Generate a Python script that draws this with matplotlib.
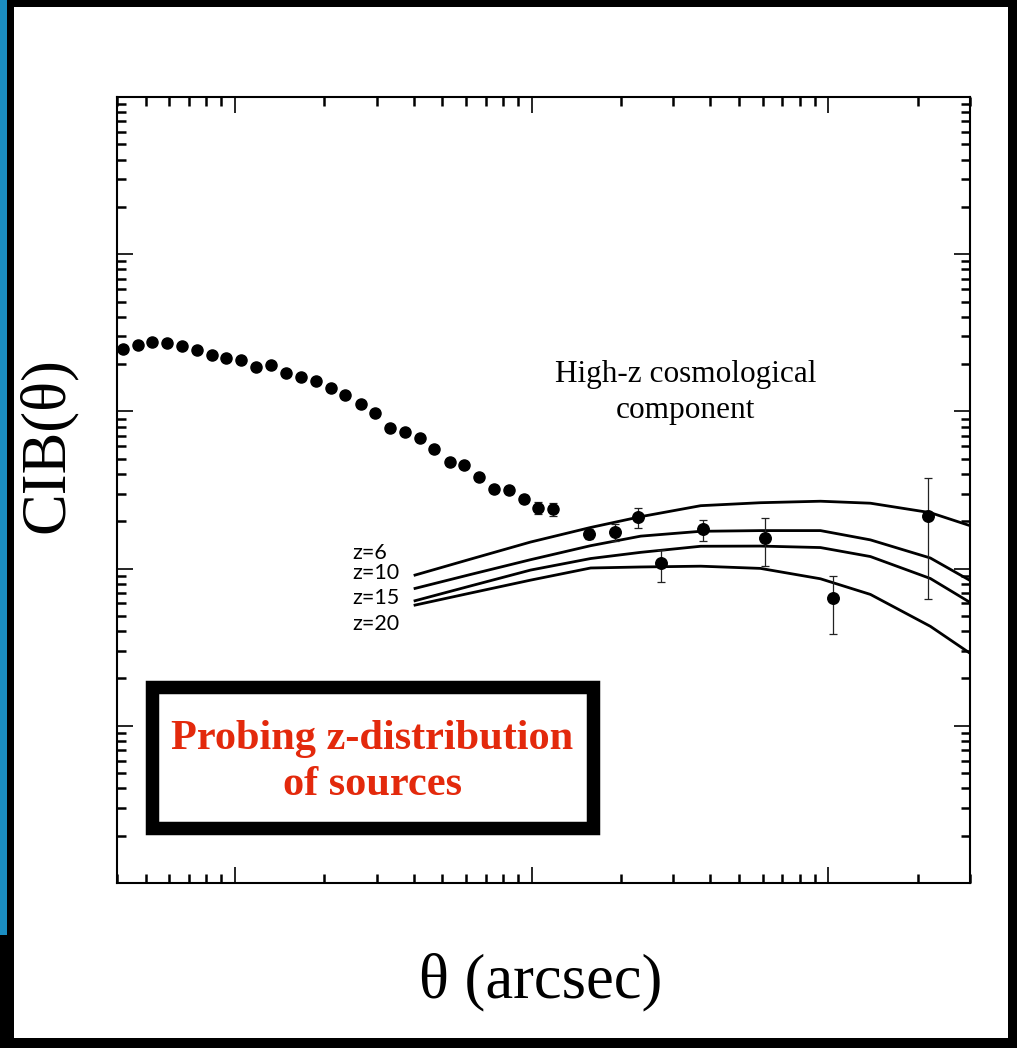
import matplotlib
matplotlib.use("Agg")
import matplotlib.pyplot as plt
from matplotlib.patches import Rectangle
from matplotlib.ticker import LogLocator, NullFormatter

# measured CIB(theta), dense small-scale set
theta_dense = [4.19, 4.70, 5.25, 5.90, 6.63, 7.45, 8.35, 9.35, 10.5, 11.77,
               13.25, 14.85, 16.64, 18.69, 21.05, 23.55, 26.5, 29.67, 33.25, 37.35,
               41.87, 47.0, 52.84, 59.2, 66.45, 74.5, 83.7, 93.8, 105.3, 117.7]
cib_dense = [0.251, 0.2637, 0.2767, 0.2715, 0.260, 0.2475, 0.2278, 0.219, 0.2109, 0.193,
             0.197, 0.176, 0.166, 0.155, 0.1403, 0.1265, 0.1119, 0.0972, 0.0788, 0.0740,
             0.0675, 0.058, 0.0475, 0.0455, 0.0382, 0.0319, 0.0314, 0.0278, 0.0244, 0.0239]
# relative 1-sigma errors (only the last few exceed the marker)
rel_err_dense = [0.0] * 25 + [0.04, 0.05, 0.06, 0.09, 0.09]

# sparse large-scale set with asymmetric errors
theta_wide = [155.9, 190.3, 228.0, 271.8, 376.5, 612.6, 1039.4, 2171.0]
cib_wide = [0.01653, 0.0172, 0.02118, 0.01082, 0.01783, 0.0157, 0.00646, 0.0215]
cib_wide_lo = [0.01536, 0.01508, 0.01804, 0.0082, 0.01492, 0.01035, 0.00386, 0.00643]
cib_wide_hi = [0.01779, 0.01924, 0.0244, 0.01322, 0.0205, 0.02087, 0.00895, 0.03765]

# model predictions for sources at different redshifts
theta_model = [40, 62, 99, 158, 233, 371, 590, 940, 1385, 2205, 3000]
model_z6 = [0.009042, 0.01147, 0.01475, 0.01827, 0.02140, 0.02513, 0.02625, 0.02683, 0.02606, 0.02269, 0.01876]
model_z10 = [0.007444, 0.009162, 0.01139, 0.01399, 0.01609, 0.01727, 0.01745, 0.01745, 0.01523, 0.01168, 0.008406]
model_z15 = [0.006212, 0.007745, 0.009784, 0.01159, 0.01269, 0.01387, 0.01391, 0.01361, 0.01193, 0.008652, 0.006095]
model_z20 = [0.005834, 0.006982, 0.008443, 0.01009, 0.01024, 0.01036, 0.01003, 0.008614, 0.006851, 0.004294, 0.002894]
model_labels = ["z=6", "z=10", "z=15", "z=20"]

serif = "Liberation Serif"

fig = plt.figure(figsize=(10.17, 10.48), dpi=100)
fig.patch.set_facecolor("white")

# slide frame: black edges with a blue strip on the left
W, H = 1017.0, 1048.0
frame = [
    (0, H - 7, W, 7, "black"),
    (W - 9, 0, 9, H, "black"),
    (0, 0, W, 10, "black"),
    (7, 0, 7, H, "black"),
    (0, 0, 7, H - 935, "black"),
    (0, H - 935, 7, 935, "#1b8ec2"),
]
for x0, y0, w, h, c in frame:
    fig.add_artist(Rectangle((x0 / W, y0 / H), w / W, h / H, transform=fig.transFigure,
                             facecolor=c, edgecolor="none", zorder=0))

ax = fig.add_axes([117 / W, 1 - 883 / H, 853 / W, 786 / H])
ax.set_xscale("log")
ax.set_yscale("log")
ax.set_xlim(4, 3000)
ax.set_ylim(1e-4, 10)

for sp in ax.spines.values():
    sp.set_linewidth(1.5)
ax.xaxis.set_major_locator(LogLocator(base=10))
ax.xaxis.set_minor_locator(LogLocator(base=10, subs=range(2, 10)))
ax.yaxis.set_major_locator(LogLocator(base=10))
ax.yaxis.set_minor_locator(LogLocator(base=10, subs=range(2, 10)))
ax.xaxis.set_major_formatter(NullFormatter())
ax.xaxis.set_minor_formatter(NullFormatter())
ax.yaxis.set_major_formatter(NullFormatter())
ax.yaxis.set_minor_formatter(NullFormatter())
ax.tick_params(which="both", direction="in", top=True, right=True, color="black")
ax.tick_params(which="major", length=11.5, width=1.2)
ax.tick_params(which="minor", length=6.5, width=1.8)

# model curves
for ys in (model_z6, model_z10, model_z15, model_z20):
    ax.plot(theta_model, ys, color="black", lw=2.0, solid_capstyle="butt", zorder=2)

# data
err_lo = [v * e for v, e in zip(cib_dense, rel_err_dense)]
err_hi = [v * e for v, e in zip(cib_dense, rel_err_dense)]
ax.errorbar(theta_dense, cib_dense, yerr=[err_lo, err_hi], fmt="o", color="black",
            ms=8, ecolor="#222222", elinewidth=0.9, capsize=3, capthick=0.9, zorder=3)
ax.errorbar(theta_wide, cib_wide,
            yerr=[[v - lo for v, lo in zip(cib_wide, cib_wide_lo)],
                  [hi - v for v, hi in zip(cib_wide, cib_wide_hi)]],
            fmt="o", color="black", ms=8.3, ecolor="#222222", elinewidth=0.9,
            capsize=3, capthick=0.9, zorder=3)

# redshift labels for the model curves
for lab, yf in zip(model_labels, [0.4198, 0.3944, 0.3632, 0.3295]):
    ax.text(0.2755, yf, lab, transform=ax.transAxes, ha="left", va="center",
            fontsize=15.5, family="Lato", color="black")

ax.text(0.6665, 0.624, "High-z cosmological\ncomponent", transform=ax.transAxes,
        ha="center", va="center", multialignment="center", fontsize=22.5,
        family=serif, color="black", linespacing=1.32)

ax.add_patch(Rectangle((0.0407, 0.0696), 0.5177, 0.1794, transform=ax.transAxes,
                       facecolor="white", edgecolor="black", lw=9.7, joinstyle="miter",
                       zorder=4))
ax.text(0.299, 0.154, "Probing z-distribution\nof sources", transform=ax.transAxes,
        ha="center", va="center", multialignment="center", fontsize=30.5,
        fontweight="bold", family=serif, color="#e3290c", linespacing=1.3, zorder=5)

fig.text(48 / W, 1 - 445 / H, "CIB(\u03b8)", rotation=90, ha="center", va="center",
         fontsize=45, family=serif)
fig.text(541 / W, 1 - 982 / H, "\u03b8 (arcsec)", ha="center", va="center",
         fontsize=45, family=serif)

fig.savefig("out.png", dpi=100)
